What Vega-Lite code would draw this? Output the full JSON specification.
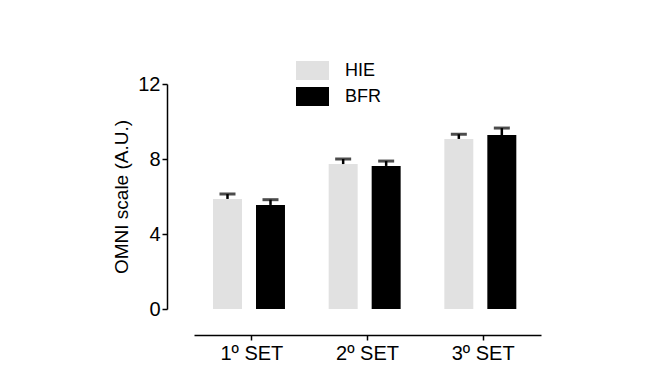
{
  "$schema": "https://vega.github.io/schema/vega-lite/v6.json",
  "width": 347,
  "height": 225,
  "autosize": "none",
  "padding": {"left": 194, "top": 84, "right": 126, "bottom": 82},
  "background": "white",
  "config": {
    "view": {"stroke": null},
    "font": "Liberation Sans",
    "axis": {"domainColor": "black", "tickColor": "black", "labelColor": "black", "titleColor": "black", "grid": false, "domainWidth": 1.5, "tickWidth": 1.5}
  },
  "data": {
    "values": [
      {"set": "1º SET", "group": "HIE", "mean": 5.87, "upper": 6.13},
      {"set": "1º SET", "group": "BFR", "mean": 5.55, "upper": 5.83},
      {"set": "2º SET", "group": "HIE", "mean": 7.73, "upper": 8.0},
      {"set": "2º SET", "group": "BFR", "mean": 7.63, "upper": 7.89},
      {"set": "3º SET", "group": "HIE", "mean": 9.07, "upper": 9.32},
      {"set": "3º SET", "group": "BFR", "mean": 9.28, "upper": 9.65}
    ]
  },
  "encoding": {
    "x": {
      "field": "set", "type": "nominal", "sort": null,
      "scale": {"paddingInner": 0, "paddingOuter": 0},
      "axis": {"title": null, "labelAngle": 0, "labelFontSize": 20, "tickSize": 5, "labelPadding": 3, "offset": 26}
    },
    "xOffset": {
      "field": "group", "type": "nominal", "sort": ["HIE", "BFR"],
      "scale": {"paddingInner": 0.326, "paddingOuter": 0.508, "align": 0.435}
    }
  },
  "layer": [
    {
      "mark": {"type": "bar"},
      "encoding": {
        "y": {
          "field": "mean", "type": "quantitative",
          "scale": {"domain": [0, 12], "nice": false},
          "axis": {"title": "OMNI scale (A.U.)", "values": [0, 4, 8, 12], "labelFontSize": 20, "titleFontSize": 19, "titleFontWeight": "normal", "tickSize": 5, "labelPadding": 2, "offset": 27, "titlePadding": 6}
        },
        "color": {
          "field": "group", "type": "nominal",
          "scale": {"domain": ["HIE", "BFR"], "range": ["#e1e1e1", "#000000"]},
          "legend": {
            "title": null, "orient": "none", "legendX": 109, "legendY": -23,
            "symbolType": "M-1.737,-1H1.737V1H-1.737Z", "symbolSize": 361,
            "symbolStrokeWidth": 0, "labelFontSize": 18, "labelOffset": 23, "rowPadding": 7
          }
        }
      }
    },
    {
      "mark": {"type": "rule", "color": "black", "strokeWidth": 2.5},
      "encoding": {
        "y": {"field": "mean", "type": "quantitative"},
        "y2": {"field": "upper"}
      }
    },
    {
      "mark": {"type": "tick", "color": "black", "thickness": 3, "size": 16},
      "encoding": {
        "y": {"field": "upper", "type": "quantitative"}
      }
    }
  ]
}
